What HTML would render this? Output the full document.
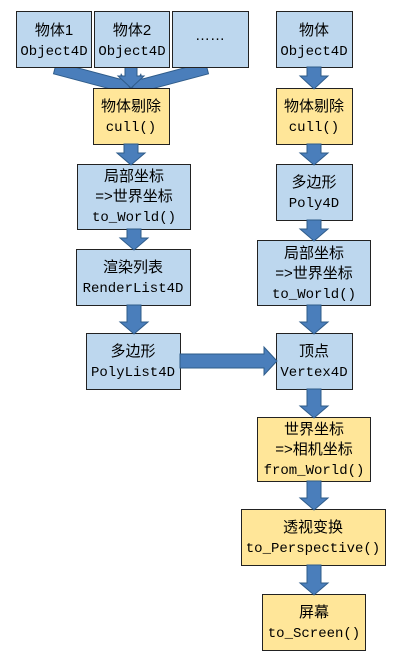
<!DOCTYPE html>
<html><head><meta charset="utf-8"><style>
html,body{margin:0;padding:0;background:#fff;}
svg{display:block;}
.cn{font-family:"Liberation Sans","Noto Sans CJK SC",sans-serif;font-size:15px;fill:#000;}
.mo{font-family:"Liberation Mono","Noto Sans CJK SC",monospace;font-size:14px;fill:#000;}
.b{fill:#BDD7EE;stroke:#222;stroke-width:1;}
.y{fill:#FFE699;stroke:#222;stroke-width:1;}
.a{fill:#4A7EBB;stroke:#2F5C8A;stroke-width:1;}
</style></head><body>
<svg width="407" height="664" viewBox="0 0 407 664" xmlns="http://www.w3.org/2000/svg">
<!-- fan arrows (drawn first) -->
<g class="a">
<polygon points="56.5,62.2 119.9,79.1 121.2,74.3 130,88 115.6,95.5 116.9,90.7 53.5,73.8"/>
<polygon points="205.5,62.2 142.1,79.1 140.8,74.3 132,88 146.4,95.5 145.1,90.7 208.5,73.8"/>
<polygon points="125,67 137,67 137,76 144,76 131,88 118,76 125,76"/>
</g>
<!-- boxes -->
<rect class="b" x="16.5" y="11.5" width="75" height="56"/>
<rect class="b" x="94.5" y="11.5" width="75" height="56"/>
<rect class="b" x="172.5" y="11.5" width="76" height="56"/>
<rect class="b" x="276.5" y="11.5" width="76" height="56"/>
<rect class="y" x="93.5" y="88.5" width="76" height="56"/>
<rect class="y" x="276.5" y="88.5" width="76" height="56"/>
<rect class="b" x="77.5" y="164.5" width="113" height="65"/>
<rect class="b" x="276.5" y="164.5" width="76" height="56"/>
<rect class="b" x="76.5" y="249.5" width="114" height="56"/>
<rect class="b" x="257.5" y="240.5" width="113" height="65"/>
<rect class="b" x="86.5" y="333.5" width="94" height="56"/>
<rect class="b" x="276.5" y="333.5" width="76" height="56"/>
<rect class="y" x="257.5" y="417.5" width="113" height="64"/>
<rect class="y" x="241.5" y="509.5" width="144" height="56"/>
<rect class="y" x="262.5" y="594.5" width="103" height="56"/>

<g class="a">
<polygon points="124,144 138,144 138,153 145,153 131,165 117,153 124,153"/>
<polygon points="127,229 141,229 141,238 148,238 134,250 120,238 127,238"/>
<polygon points="127,305 141,305 141,322 148,322 134,334 120,322 127,322"/>
<polygon points="307,67 321,67 321,76 328,76 314,89 300,76 307,76"/>
<polygon points="307,144 321,144 321,153 328,153 314,165 300,153 307,153"/>
<polygon points="307,220 321,220 321,229 328,229 314,241 300,229 307,229"/>
<polygon points="307,305 321,305 321,322 328,322 314,334 300,322 307,322"/>
<polygon points="307,389 321,389 321,406 328,406 314,418 300,406 307,406"/>
<polygon points="307,481 321,481 321,498 328,498 314,510 300,498 307,498"/>
<polygon points="307,565 321,565 321,583 328,583 314,595 300,583 307,583"/>
<polygon points="180,354 264,354 264,347 277,361 264,375 264,368 180,368"/>
</g>

<g text-anchor="middle">
<text class="cn" x="54" y="35">物体1</text><text class="mo" x="54" y="55">Object4D</text>
<text class="cn" x="132" y="35">物体2</text><text class="mo" x="132" y="55">Object4D</text>
<text class="cn" x="210" y="40">……</text>
<text class="cn" x="314" y="35">物体</text><text class="mo" x="314" y="55">Object4D</text>
<text class="cn" x="131" y="111">物体剔除</text><text class="mo" x="131" y="131">cull()</text>
<text class="cn" x="314" y="111">物体剔除</text><text class="mo" x="314" y="131">cull()</text>
<text class="cn" x="134" y="181">局部坐标</text><text class="cn" x="134" y="201">=&gt;世界坐标</text><text class="mo" x="134" y="221">to_World()</text>
<text class="cn" x="314" y="187">多边形</text><text class="mo" x="314" y="207">Poly4D</text>
<text class="cn" x="133" y="272">渲染列表</text><text class="mo" x="133" y="292">RenderList4D</text>
<text class="cn" x="314" y="258">局部坐标</text><text class="cn" x="314" y="278">=&gt;世界坐标</text><text class="mo" x="314" y="298">to_World()</text>
<text class="cn" x="133" y="356">多边形</text><text class="mo" x="133" y="376">PolyList4D</text>
<text class="cn" x="314" y="356">顶点</text><text class="mo" x="314" y="376">Vertex4D</text>
<text class="cn" x="314" y="434">世界坐标</text><text class="cn" x="314" y="454">=&gt;相机坐标</text><text class="mo" x="314" y="474">from_World()</text>
<text class="cn" x="313" y="532">透视变换</text><text class="mo" x="313" y="552">to_Perspective()</text>
<text class="cn" x="314" y="617">屏幕</text><text class="mo" x="314" y="637">to_Screen()</text>
</g>
</svg>
</body></html>
